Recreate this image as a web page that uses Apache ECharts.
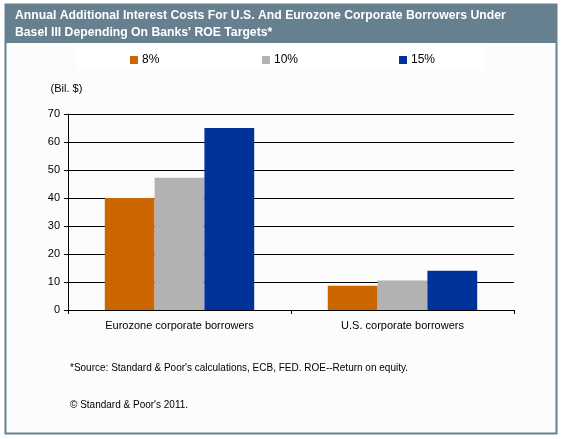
<!DOCTYPE html>
<html><head><meta charset="utf-8">
<script src="https://cdn.jsdelivr.net/npm/echarts@6/dist/echarts.min.js"></script>
<style>html,body{margin:0;padding:0;background:#fff}#c{width:562px;height:439px}</style>
</head><body><div id="c"></div>
<script>
const categories = ['Eurozone corporate borrowers', 'U.S. corporate borrowers'];
const seriesNames = ['8%', '10%', '15%'];
const roe8 = [40.0, 8.7];
const roe10 = [47.2, 10.5];
const roe15 = [65.0, 14.0];
const yTicks = { min: 0, max: 70, interval: 10 };
const colors = ['#cc6600', '#b2b2b2', '#003399'];
const FONT = '"Liberation Sans", Arial, sans-serif';

const chart = echarts.init(document.getElementById('c'), null, { renderer: 'canvas' });
const values = [roe8, roe10, roe15];
const legendLefts = [125, 257, 394];
chart.setOption({
  animation: false,
  backgroundColor: '#ffffff',
  textStyle: { fontFamily: FONT },
  graphic: [
    { type: 'rect', z: -10, shape: { x: 5.5, y: 4.5, width: 551, height: 429 }, style: { fill: '#fcfcfc', stroke: '#66808f', lineWidth: 2 } },
    { type: 'rect', z: -9, shape: { x: 5, y: 4, width: 552, height: 39 }, style: { fill: '#66808f' } },
    { type: 'text', x: 15, y: 7, scaleX: 0.905, z: 5, style: { text: 'Annual Additional Interest Costs For U.S. And Eurozone Corporate Borrowers Under\nBasel III Depending On Banks\' ROE Targets*', fill: '#ffffff', font: 'bold 13.5px "Liberation Sans", Arial, sans-serif', lineHeight: 17 } },
    { type: 'rect', z: -8, shape: { x: 77, y: 47, width: 408, height: 23 }, style: { fill: '#ffffff' } },
    { type: 'text', left: 70, top: 363, style: { text: '*Source: Standard & Poor\'s calculations, ECB, FED. ROE--Return on equity.', fill: '#000', font: '10px ' + FONT } },
    { type: 'text', left: 70, top: 400, style: { text: '\u00a9 Standard & Poor\'s 2011.', fill: '#000', font: '10px ' + FONT } }
  ],
  legend: seriesNames.map((n, i) => ({
    data: [n], left: legendLefts[i], top: 49, itemWidth: 8, itemHeight: 8, itemGap: 4,
    icon: 'rect', textStyle: { fontSize: 12, color: '#000', fontFamily: FONT, padding: [0, 0, 0, -1] }
  })),
  grid: { left: 68, right: 48, top: 114, bottom: 129, containLabel: false },
  xAxis: {
    type: 'category', data: categories,
    axisLine: { lineStyle: { color: '#000', width: 1 } },
    axisTick: { show: true, length: 4, inside: false, lineStyle: { color: '#000' } },
    axisLabel: { color: '#000', fontSize: 11, margin: 10, fontFamily: FONT }
  },
  yAxis: {
    type: 'value', min: yTicks.min, max: yTicks.max, interval: yTicks.interval,
    name: '(Bil. $)', nameLocation: 'end', nameGap: 20,
    nameTextStyle: { color: '#000', fontSize: 11, align: 'center', padding: [0, 3, 0, 0], fontFamily: FONT },
    axisLine: { show: true, lineStyle: { color: '#000' } },
    axisTick: { show: true, length: 4, lineStyle: { color: '#000' } },
    axisLabel: { color: '#000', fontSize: 11, margin: 8, fontFamily: FONT },
    splitLine: { show: true, lineStyle: { color: '#000', width: 1 } }
  },
  series: seriesNames.map((n, i) => ({
    name: n, type: 'bar', data: values[i], barGap: '0%', barCategoryGap: '33%',
    itemStyle: { color: colors[i] }
  }))
});
</script></body></html>
